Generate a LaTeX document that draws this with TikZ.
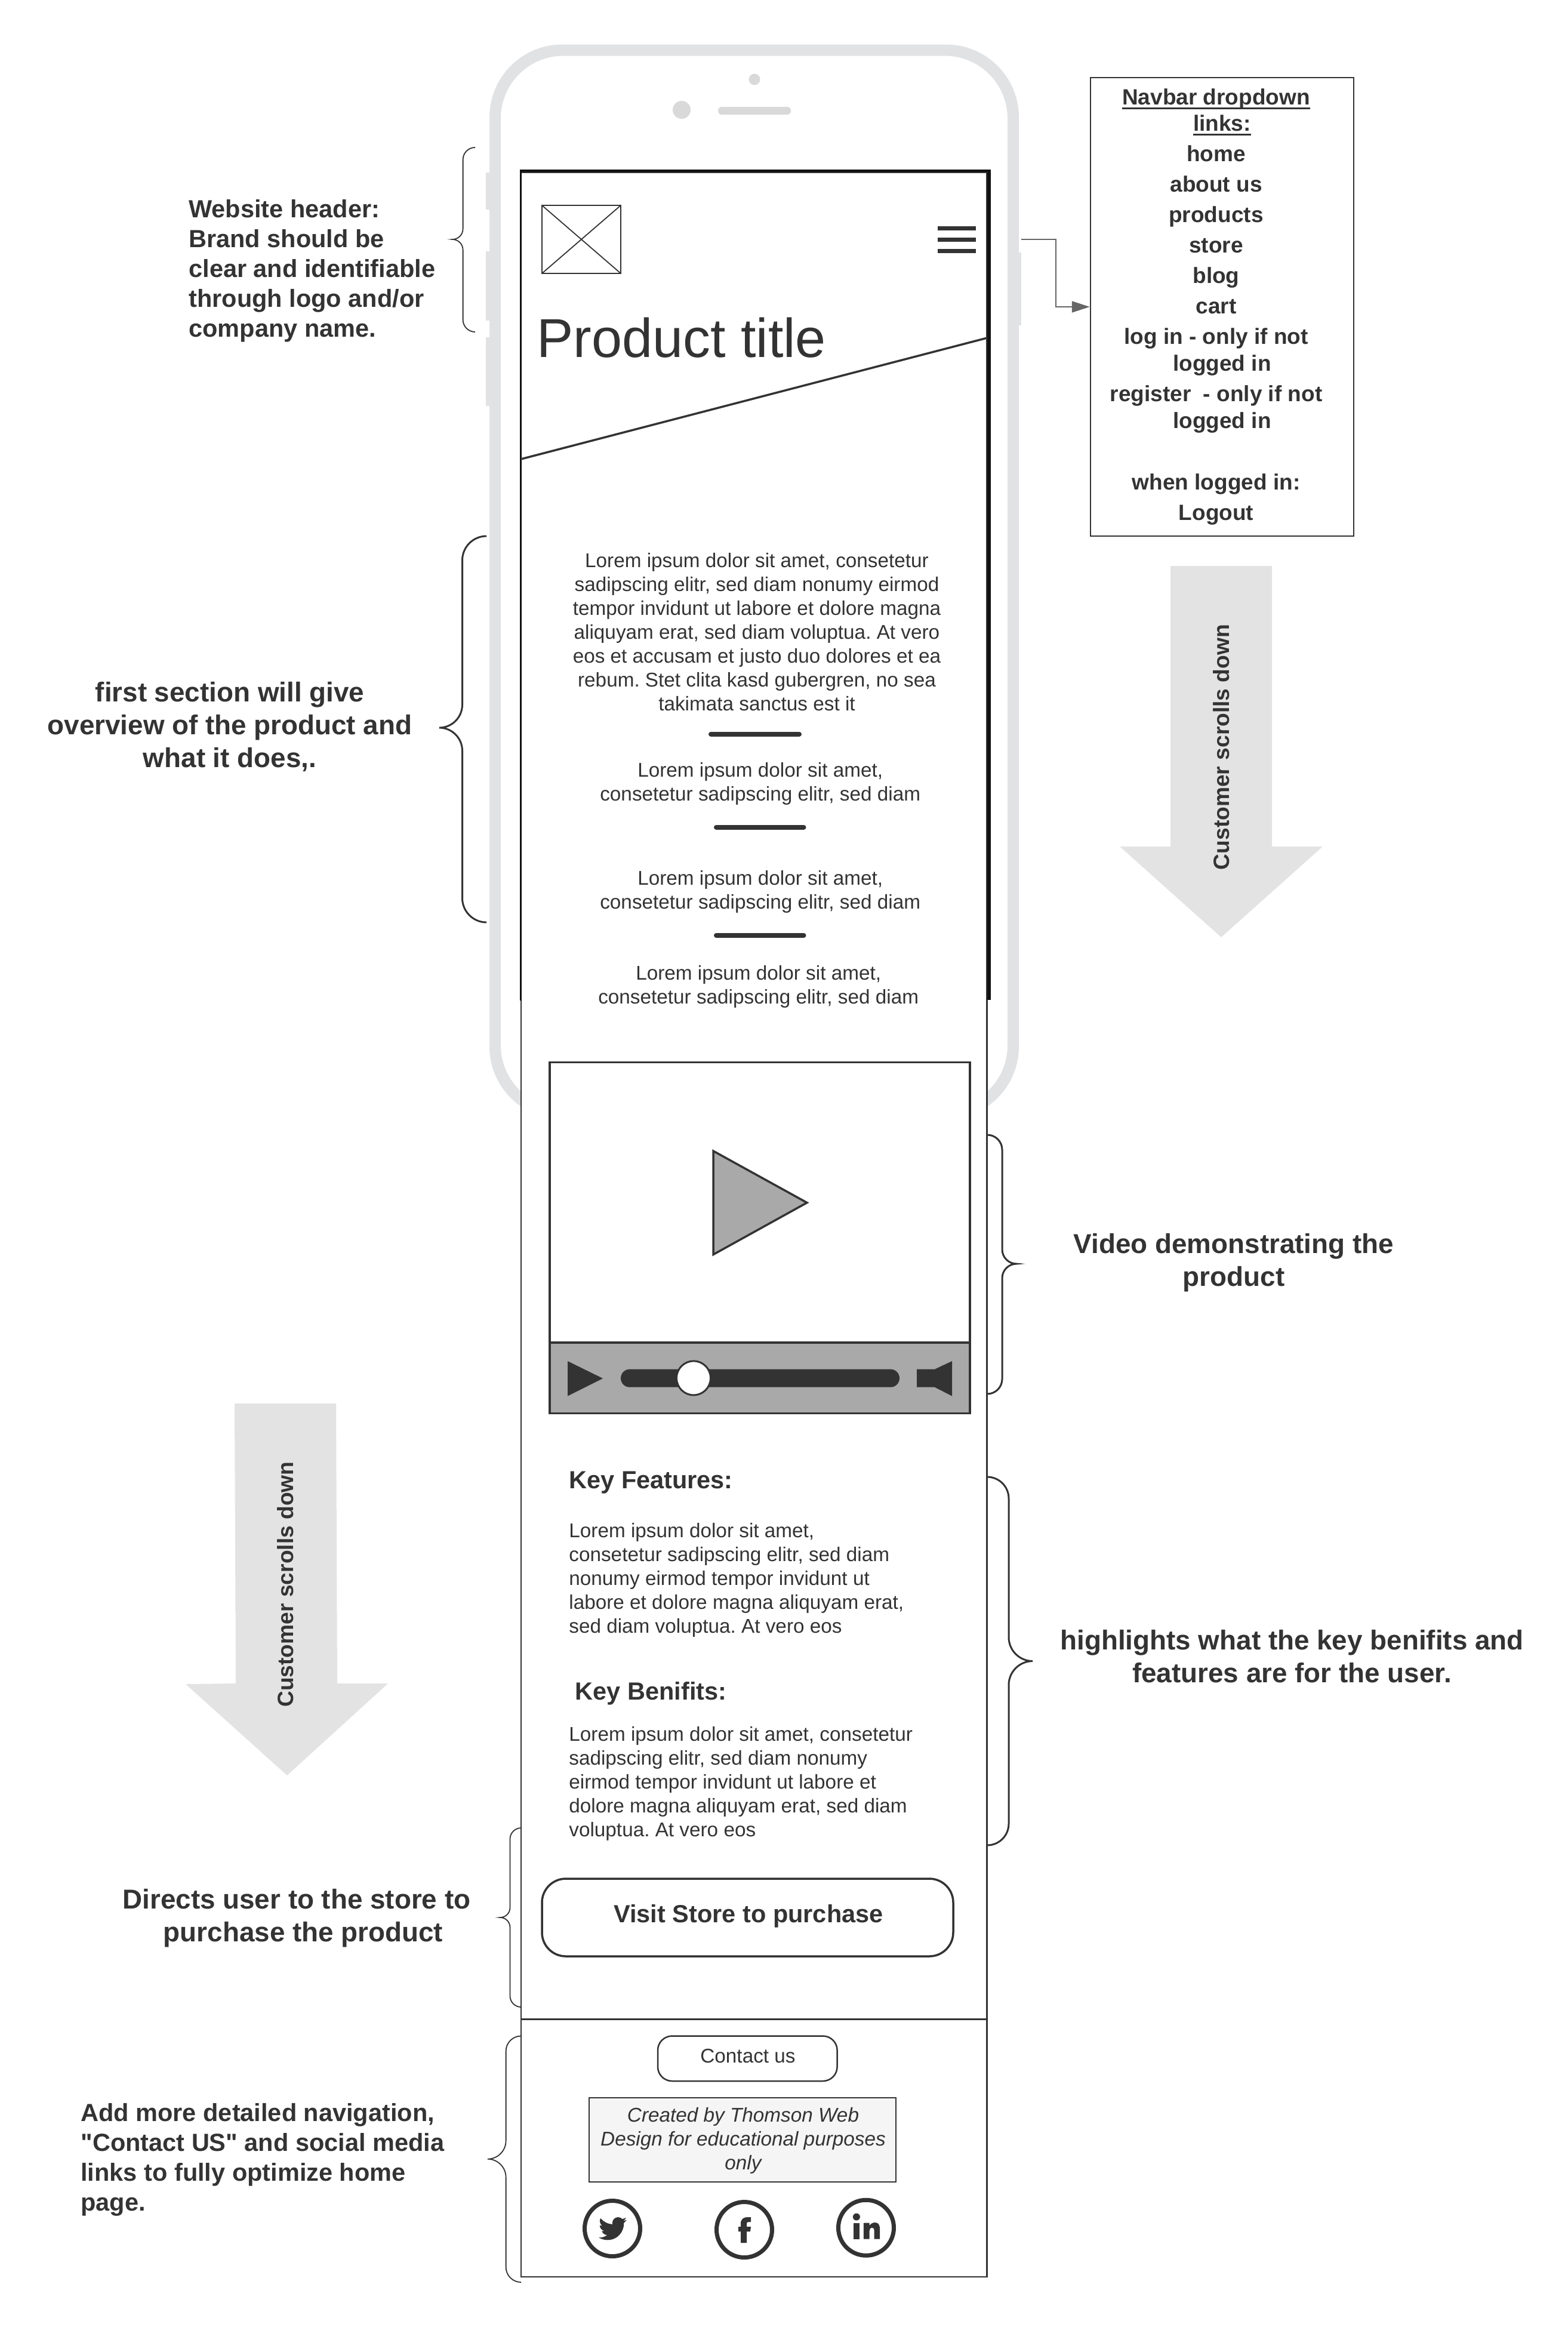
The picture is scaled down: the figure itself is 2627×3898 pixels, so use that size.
\documentclass[tikz,border=0pt]{standalone}
\usepackage{fontspec}
\setmainfont{Liberation Sans}
\newfontfamily\straightfont{Liberation Sans}
\usetikzlibrary{arrows.meta}
\AtBeginDocument{\frenchspacing}
\definecolor{ink}{HTML}{333333}
\definecolor{phonegray}{HTML}{E1E2E4}
\definecolor{sensorgray}{HTML}{D9D9D9}
\definecolor{arrowgray}{HTML}{E3E3E3}
\definecolor{ctrlgray}{HTML}{A9A9A9}
\definecolor{notegray}{HTML}{F5F5F5}
\definecolor{linkgray}{HTML}{666666}
\definecolor{screenblack}{HTML}{111111}
\newcommand{\firststrut}{\rule{0pt}{20pt}}
\newcommand{\trail}{\hbox{\kern10pt}}
\newsavebox{\ulinebox}
\newcommand{\navul}[1]{\sbox{\ulinebox}{#1}\rlap{\rule[-3.6pt]{\wd\ulinebox}{1.25pt}}\usebox{\ulinebox}}
% tip x, stem x, end x, top y, mid y, bottom y, style
\newcommand{\sidebrace}[7]{%
  \pgfmathsetmacro{\rA}{abs(#3-#2)}%
  \pgfmathsetmacro{\rB}{abs(#1-#2)}%
  \pgfmathsetmacro{\cA}{#2+0.45*(#3-#2)}%
  \pgfmathsetmacro{\cB}{#2+0.45*(#1-#2)}%
  \draw[#7] (#3,#4) .. controls (\cA,#4) and (#2,#4+0.45*\rA) .. (#2,#4+\rA)
    -- (#2,#5-\rB) .. controls (#2,#5-0.45*\rB) and (\cB,#5) .. (#1,#5)
    .. controls (\cB,#5) and (#2,#5+0.45*\rB) .. (#2,#5+\rB)
    -- (#2,#6-\rA) .. controls (#2,#6-0.45*\rA) and (\cA,#6) .. (#3,#6);}
\tikzset{
  annot/.style={inner sep=0,text=ink,font=\fontsize{20.75}{25}\selectfont\bfseries,align=left,anchor=north west},
  bigannot/.style={inner sep=0,text=ink,font=\fontsize{22.9}{27.5}\selectfont\bfseries,align=center,anchor=north},
  bodytext/.style={inner sep=0,text=ink,font=\fontsize{16.65}{20}\selectfont,align=center,anchor=north},
  bodyleft/.style={inner sep=0,text=ink,font=\fontsize{16.65}{20}\selectfont,align=left,anchor=north west},
  heading/.style={inner sep=0,text=ink,font=\fontsize{20.75}{25}\selectfont\bfseries,anchor=north west},
  scrolltext/.style={inner sep=0,text=ink,font=\fontsize{18.6}{22}\selectfont\bfseries,rotate=90,anchor=base},
  thinbrace/.style={ink,line width=0.9pt},
  thickbrace/.style={ink,line width=1.5pt},
  divider/.style={ink,line width=4pt,line cap=round},
  connector/.style={linkgray,line width=0.9pt,-{Triangle[length=15pt,width=9.5pt]}},
  social/.style={circle,draw=ink,line width=3.5pt,minimum size=46.5pt,inner sep=0},
}
\begin{document}
\begin{tikzpicture}[x=0.5pt,y=-0.5pt]
\useasboundingbox (0,0) rectangle (2627,3898);
% phone body
\fill[phonegray,even odd rule,rounded corners=61pt] (820,74.5) rectangle (1707,1875)
  [rounded corners=52.5pt] (839,93.5) rectangle (1688,1856);
\fill[phonegray] (814,289) rectangle (820,351);
\fill[phonegray] (814,421) rectangle (820,537);
\fill[phonegray] (814,565) rectangle (820,680);
\fill[phonegray] (1707,423) rectangle (1711,545);
\fill[sensorgray] (1264,133) ellipse [x radius=9.5,y radius=9.5];
\fill[sensorgray] (1142,184) circle [radius=15];
\fill[sensorgray,rounded corners=3pt] (1203,179) rectangle (1325,192);
% long screen
\draw[ink,fill=white,line width=1.25pt] (873,289) rectangle (1653.5,3814);
\draw[ink,line width=1.25pt] (873,3382.5) -- (1653.5,3382.5);
\fill[screenblack] (871,284) rectangle (1660,288);
\fill[ink] (873,288) rectangle (1654,289.5);
\fill[screenblack] (1654,284) rectangle (1660,1675);
\fill[screenblack] (871,284) rectangle (874,1676);
% header content
\draw[ink,line width=1.2pt] (908,344) rectangle (1040,458);
\draw[ink,line width=0.9pt] (908,344) -- (1040,458) (1040,344) -- (908,458);
\fill[ink] (1571,379) rectangle (1635,386);
\fill[ink] (1571,398) rectangle (1635,405);
\fill[ink] (1571,417) rectangle (1635,424);
\node[inner sep=0,anchor=base west,text=ink,font=\fontsize{45.9}{50}\selectfont] (title) at (899,598) {Product title};
\draw[ink,line width=1.75pt] (873,769) -- (1654,566);
% body text
\node[bodytext] (intro) at (1268,910) {\firststrut Lorem ipsum dolor sit amet, consetetur\\sadipscing elitr, sed diam nonumy eirmod\\tempor invidunt ut labore et dolore magna\\aliquyam erat, sed diam voluptua. At vero\\eos et accusam et justo duo dolores et ea\\rebum. Stet clita kasd gubergren, no sea\\takimata sanctus est it};
\draw[divider] (1191,1229.5) -- (1339,1229.5);
\node[bodytext] (short1) at (1273.7,1261) {\firststrut Lorem ipsum dolor sit amet,\\consetetur sadipscing elitr, sed diam};
\draw[divider] (1200,1385.6) -- (1346.5,1385.6);
\node[bodytext] (short2) at (1273.7,1442.5) {\firststrut Lorem ipsum dolor sit amet,\\consetetur sadipscing elitr, sed diam};
\draw[divider] (1200,1566.7) -- (1346.5,1566.7);
\node[bodytext] (short3) at (1270.7,1600.7) {\firststrut Lorem ipsum dolor sit amet,\\consetetur sadipscing elitr, sed diam};
% video player
\draw[ink,fill=white,line width=1.75pt] (921,1779.5) rectangle (1625,2367.6);
\draw[ink,fill=ctrlgray,line width=1.75pt] (921,2249) rectangle (1625,2367.6);
\draw[ink,fill=ctrlgray,line width=1.75pt,line join=miter] (1195,1928) -- (1352,2014.6) -- (1195,2101.5) -- cycle;
\fill[ink] (951,2280) -- (1010,2309) -- (951,2338.5) -- cycle;
\fill[ink,rounded corners=7.5pt] (1040,2293.6) rectangle (1507,2323.7);
\draw[ink,fill=white,line width=1.5pt] (1162,2308.4) circle [radius=28.5];
\fill[ink] (1536,2293.6) -- (1566,2293.6) -- (1595,2280) -- (1595,2338.5) -- (1566,2323.7) -- (1536,2323.7) -- cycle;
% features
\node[heading] (featHead) at (953,2453) {\firststrut Key Features:};
\node[bodyleft] (featBody) at (953,2535) {\firststrut Lorem ipsum dolor sit amet,\\consetetur sadipscing elitr, sed diam\\nonumy eirmod tempor invidunt ut\\labore et dolore magna aliquyam erat,\\sed diam voluptua. At vero eos};
\node[heading] (beneHead) at (963.5,2807.5) {\firststrut Key Benifits:};
\node[bodyleft] (beneBody) at (953,2876.4) {\firststrut Lorem ipsum dolor sit amet, consetetur\\sadipscing elitr, sed diam nonumy\\eirmod tempor invidunt ut labore et\\dolore magna aliquyam erat, sed diam\\voluptua. At vero eos};
% buttons
\draw[ink,line width=1.75pt,rounded corners=20pt] (908,3147) rectangle (1597,3277);
\node[heading,anchor=north] (visit) at (1254,3179.6) {\firststrut Visit Store to purchase};
\draw[ink,line width=1.25pt,rounded corners=12pt] (1102,3410.5) rectangle (1402.6,3486);
\node[bodytext] (contact) at (1253,3415) {\firststrut Contact us};
\draw[ink,fill=notegray,line width=1.25pt] (987,3514) rectangle (1501,3655);
\node[bodytext,font=\fontsize{16.65}{20}\selectfont\itshape] (note) at (1245,3514) {\firststrut Created by Thomson Web\\Design for educational purposes\\only};
% social
\node[social] (tw) at (1026,3733) {};
\node[social] (fb) at (1247,3735) {};
\node[social] (li) at (1451,3731.7) {};
\begin{scope}[shift={(999.5,3705)},x=1.125pt,y=-1.125pt]
\fill[ink] (22.46,6) .. controls (21.69,6.35) and (20.86,6.58) .. (20,6.69)
 .. controls (20.88,6.16) and (21.56,5.32) .. (21.88,4.31)
 .. controls (21.05,4.81) and (20.13,5.16) .. (19.16,5.36)
 .. controls (18.37,4.5) and (17.26,4) .. (16,4)
 .. controls (13.65,4) and (11.73,5.92) .. (11.73,8.29)
 .. controls (11.73,8.63) and (11.77,8.96) .. (11.84,9.27)
 .. controls (8.28,9.09) and (5.11,7.38) .. (3,4.79)
 .. controls (2.63,5.42) and (2.42,6.16) .. (2.42,6.94)
 .. controls (2.42,8.43) and (3.17,9.75) .. (4.33,10.5)
 .. controls (3.62,10.5) and (2.96,10.3) .. (2.38,10)
 -- (2.38,10.03)
 .. controls (2.38,12.11) and (3.86,13.85) .. (5.82,14.24)
 .. controls (5.46,14.34) and (5.08,14.39) .. (4.69,14.39)
 .. controls (4.42,14.39) and (4.15,14.36) .. (3.89,14.31)
 .. controls (4.43,16) and (6,17.26) .. (7.89,17.29)
 .. controls (6.43,18.45) and (4.58,19.13) .. (2.56,19.13)
 .. controls (2.22,19.13) and (1.88,19.11) .. (1.54,19.07)
 .. controls (3.44,20.29) and (5.7,21) .. (8.12,21)
 .. controls (16,21) and (20.33,14.46) .. (20.33,8.79)
 .. controls (20.33,8.6) and (20.33,8.42) .. (20.32,8.23)
 .. controls (21.16,7.63) and (21.88,6.87) .. (22.46,6) -- cycle;
\end{scope}
\begin{scope}[shift={(2,0)}]
\fill[ink] (1239,3757) -- (1239,3738) -- (1235,3738) -- (1235,3730) -- (1239,3730) -- (1239,3725)
  .. controls (1239,3717) and (1244,3714) .. (1250,3714) -- (1256,3714) -- (1256,3722) -- (1252,3722)
  .. controls (1250,3722) and (1249,3723) .. (1249,3725) -- (1249,3730) -- (1256,3730) -- (1255,3738) -- (1249,3738) -- (1249,3757) -- cycle;
\end{scope}
\begin{scope}[shift={(1.2,0)}]
\fill[ink] (1433.7,3713.5) circle [radius=6];
\fill[ink] (1429,3723.5) rectangle (1439,3750.5);
\fill[ink] (1445.7,3723.5) -- (1455.5,3723.5) -- (1455.5,3728)
  .. controls (1458,3724.5) and (1461,3723) .. (1465,3723)
  .. controls (1471,3723) and (1473,3728) .. (1473,3735) -- (1473,3750.5) -- (1463.5,3750.5) -- (1463.5,3737)
  .. controls (1463.5,3733) and (1462,3731.5) .. (1459.5,3731.5)
  .. controls (1457,3731.5) and (1455.5,3734) .. (1455.5,3737) -- (1455.5,3750.5) -- (1445.7,3750.5) -- cycle;
\end{scope}
% scroll arrows
\fill[arrowgray] (1961,948) -- (2131,948) -- (2131,1418) -- (2216,1418) -- (2046,1570) -- (1876,1418) -- (1961,1418) -- cycle;
\node[scrolltext] (scrollR) at (2059,1251.5) {Customer scrolls down};
\fill[arrowgray] (393,2351) -- (563,2351) -- (565,2820) -- (650,2820) -- (481,2974) -- (311,2821) -- (395,2820) -- cycle;
\node[scrolltext] (scrollL) at (491,2654) {Customer scrolls down};
% nav box
\node[draw=ink,line width=1.25pt,minimum width=220.5pt,minimum height=384pt,inner sep=0] (navbox) at (2047.5,514) {};
\node[inner sep=0,anchor=north,text=ink,align=center,font=\fontsize{18.5}{22.5}\selectfont\bfseries] (navtext) at (2047.5,135) {%
 \firststrut\navul{Navbar dropdown}\trail\\[-0.5pt]
 \navul{links:}\\[3.25pt]
 home\trail\\[3pt]
 about us\trail\\[3pt]
 products\trail\\[3pt]
 store\trail\\[3pt]
 blog\trail\\[3pt]
 cart\trail\\[3pt]
 log in - only if not\trail\\
 logged in\\[3pt]
 register~ - only if not\trail\\
 logged in\\[29pt]
 when logged in:\trail\\[3pt]
 Logout\trail};
\coordinate (menuLink) at (1711,401);
\draw[connector] (menuLink) -- ++(58,0) |- (navbox.west);
% annotations
\node[annot] (noteHeader) at (316,323.6) {\firststrut Website header:\\Brand should be\\clear and identifiable\\through logo and/or\\company name.};
\node[bigannot] (noteFirst) at (385,1135.5) {\firststrut first section will give\\overview of the product and\\what it does,.};
\node[bigannot] (noteVideo) at (2067,2059) {\firststrut Video demonstrating the\\product};
\node[bigannot] (noteKey) at (2164.5,2723) {\firststrut highlights what the key benifits and\\features are for the user.};
\node[bigannot] (noteStore) at (508,3157) {\firststrut Directs user to the store to\hbox{\kern11pt}\\purchase the product};
\node[annot] (noteFooter) at (135,3513) {\firststrut Add more detailed navigation,\\{\straightfont\bfseries"}Contact US{\straightfont\bfseries"} and social media\\links to fully optimize home\\page.};
% braces
\sidebrace{758}{775.6}{796}{247}{401}{556}{thinbrace}
\sidebrace{736}{774.5}{815}{898}{1219}{1545}{thickbrace}
\sidebrace{1703}{1679}{1654}{1901}{2117}{2335}{thickbrace}
\sidebrace{1730}{1690}{1654}{2474}{2782.5}{3091}{thickbrace}
\sidebrace{838}{854.5}{873}{3062}{3212}{3362}{thinbrace}
\sidebrace{817}{847.6}{873}{3410.5}{3616.6}{3823}{thinbrace}
\end{tikzpicture}
\end{document}
